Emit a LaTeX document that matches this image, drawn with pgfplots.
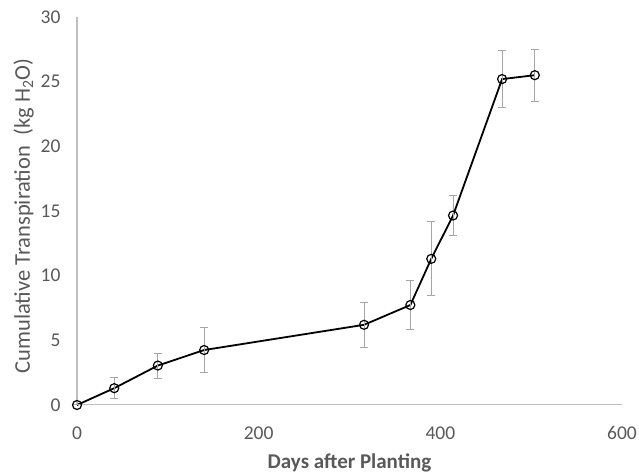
\documentclass[border=0pt]{standalone}
\usepackage{pgfplots}
\pgfplotsset{compat=1.18}
\usepackage{fontspec}
\setmainfont{Carlito}
\definecolor{txtgrey}{HTML}{595959}
\definecolor{axgrey}{HTML}{BFBFBF}
\definecolor{errgrey}{HTML}{A6A6A6}

\begin{document}
\begin{tikzpicture}[x=1pt,y=1pt]
  \useasboundingbox (-77,-68) rectangle (562,405);
  \begin{axis}[
      at={(0,0)}, anchor=south west,
      width=545pt, height=388pt, scale only axis,
      xmin=0, xmax=600, ymin=0, ymax=30,
      xtick={0,200,400,600}, ytick={0,5,10,15,20,25,30},
      axis lines*=left,
      axis line style={axgrey, line width=1pt},
      major tick length=0pt,
      /pgf/number format/assume math mode=true,
      ticklabel style={font=\fontsize{19.5}{21}\selectfont, text=txtgrey},
      xticklabel style={yshift=-18pt},
      yticklabel style={xshift=-13pt},
      xlabel={\textbf{Days after Planting}},
      ylabel={Cumulative Transpiration\ \ (kg H\textsubscript{2}O)},
      xlabel style={font=\fontsize{21}{24}\selectfont, text=txtgrey, yshift=-7pt},
      ylabel style={font=\fontsize{22.5}{25}\selectfont, text=txtgrey, yshift=0pt, xshift=-5pt},
      clip=false,
    ]
    \addplot[black, line width=1.8pt, mark=o, mark size=4.5pt,
      mark options={line width=1.2pt},
      error bars/.cd, y dir=both, y explicit,
      error bar style={errgrey, line width=1pt},
      error mark options={rotate=90, mark size=4pt, errgrey, line width=1pt}]
      coordinates {
        (0,0) +- (0,0)
        (41,1.3) +- (0,0.8)
        (89,3.05) +- (0,0.97)
        (140,4.25) +- (0,1.73)
        (316,6.2) +- (0,1.73)
        (367,7.73) +- (0,1.93)
        (390,11.3) +- (0,2.85)
        (414,14.65) +- (0,1.52)
        (468,25.2) +- (0,2.22)
        (504,25.5) +- (0,2.0)
      };
  \end{axis}
\end{tikzpicture}
\end{document}
